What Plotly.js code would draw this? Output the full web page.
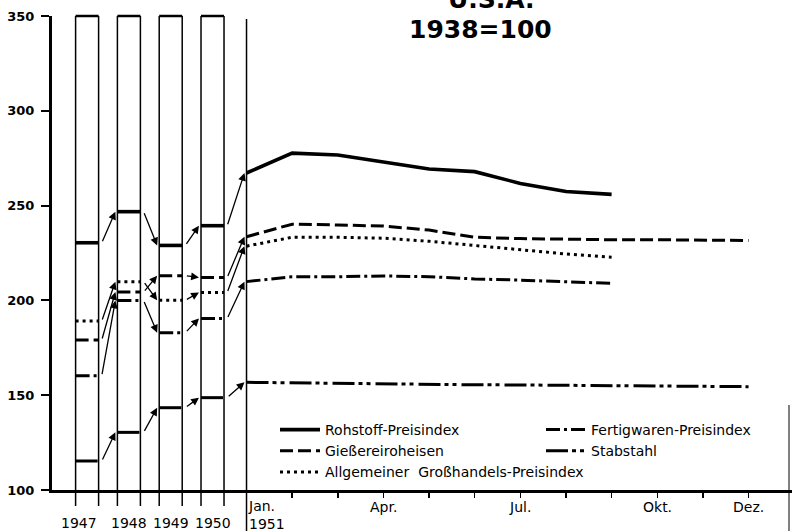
<!DOCTYPE html>
<html><head><meta charset="utf-8">
<script src="https://cdn.plot.ly/plotly-3.0.1.min.js"></script>
<style>html,body{margin:0;padding:0;background:#fff}#chart{width:792px;height:531px}</style>
</head><body><div id="chart"></div>
<script>
// ---------- data ----------
const years = ['1947', '1948', '1949', '1950'];
const months = ['Jan.', 'Feb.', 'Mär.', 'Apr.', 'Mai', 'Jun.', 'Jul.', 'Aug.', 'Sep.', 'Okt.', 'Nov.', 'Dez.'];
const labeledMonths = ['Apr.', 'Jul.', 'Okt.', 'Dez.'];
const firstMonthLabel = 'Jan.<br>1951';
const yTicks = [100, 150, 200, 250, 300, 350];

const seriesNames = ['Rohstoff-Preisindex', 'Fertigwaren-Preisindex', 'Gießereiroheisen', 'Stabstahl', 'Allgemeiner  Großhandels-Preisindex'];

const rohstoffYear = [230.4, 246.8, 229.0, 239.4];
const rohstoffMonth = [267.2, 277.7, 276.7, 272.8, 269.3, 267.9, 261.7, 257.4, 255.9];

const fertigYear = [160.3, 199.9, 183.0, 190.5];
const fertigMonth = [209.9, 212.5, 212.5, 212.9, 212.5, 211.3, 210.7, 209.9, 209.0];

const giessereiYear = [179.1, 204.4, 213.0, 212.1];
const giessereiMonth = [233.6, 240.2, 239.8, 239.2, 237.1, 233.3, 232.6, 232.2, 232.0, 232.0, 231.8, 231.6];

const stabYear = [115.3, 130.4, 143.4, 148.7];
const stabMonth = [156.8, 156.5, 156.2, 156.0, 155.7, 155.5, 155.4, 155.2, 155.0, 154.9, 154.7, 154.5];

const allgemeinYear = [189.1, 209.9, 200.1, 204.2];
const allgemeinMonth = [228.6, 233.3, 233.3, 232.8, 231.2, 228.9, 226.6, 224.5, 222.8];

// ---------- layout constants (x unit = one month, Jan 1951 = 0) ----------
const BOX_W = 0.504, BOX_STEP = 0.916, LAST_BOX_RIGHT = -0.493;
const X_RANGE = [-4.262, 11.952];
const TAIL_GAP = 0.07, HEAD_GAP = 0.045;
function yearBox(k) {
  const r = LAST_BOX_RIGHT - (years.length - 1 - k) * BOX_STEP;
  return {l: r - BOX_W, r: r, c: r - BOX_W / 2};
}
function py(pixel) { return (490 - pixel) / 474; }   // paper y from pixel row
function px(pixel) { return (pixel - 52) / 740; }    // paper x from pixel column

const styles = [
  {width: 3.6, dash: 'solid'},
  {width: 3, dash: '14px,4px,3px,4px'},
  {width: 3, dash: '13px,5px'},
  {width: 3, dash: '22px,4px,4px,4px,4px,5px'},
  {width: 3, dash: '3px,4px'}
];
const yearSets = [rohstoffYear, fertigYear, giessereiYear, stabYear, allgemeinYear];
const monthSets = [rohstoffMonth, fertigMonth, giessereiMonth, stabMonth, allgemeinMonth];

const traces = [];
const annotations = [];
seriesNames.forEach((name, s) => {
  const yv = yearSets[s], mv = monthSets[s];
  const x = [], y = [];
  yv.forEach((v, k) => { const b = yearBox(k); x.push(b.l, b.r, null); y.push(v, v, null); });
  mv.forEach((v, i) => { x.push(i); y.push(v); });
  traces.push({
    type: 'scatter', mode: 'lines', name: name, x: x, y: y,
    connectgaps: false, hoverinfo: 'skip', legendrank: s + 1,
    line: {color: '#000', width: styles[s].width, dash: styles[s].dash}
  });
  // arrows from each year level to the next period's level
  yv.forEach((v, k) => {
    const tailX = yearBox(k).r + TAIL_GAP;
    const headX = (k < yv.length - 1 ? yearBox(k + 1).l : 0) - HEAD_GAP;
    const headY = k < yv.length - 1 ? yv[k + 1] : mv[0];
    annotations.push({
      xref: 'x', yref: 'y', axref: 'x', ayref: 'y',
      x: headX, y: headY, ax: tailX, ay: v, text: '',
      showarrow: true, arrowhead: 2, arrowsize: 1.2, arrowwidth: 1.3,
      arrowcolor: '#000', standoff: 0, startstandoff: 0
    });
  });
});

// x labels
const lblFont = {family: 'DejaVu Sans', size: 14, color: '#000'};
years.forEach((yr, k) => {
  annotations.push({xref: 'x', yref: 'paper', x: yearBox(k).c, y: py(523), text: yr,
    showarrow: false, xanchor: 'center', yanchor: 'middle', xshift: k === 0 ? -8 : 0,
    font: {family: 'DejaVu Sans', size: 14, color: '#000'}});
});
annotations.push({xref: 'x', yref: 'paper', x: 0, y: py(515), text: firstMonthLabel,
  showarrow: false, xanchor: 'left', yanchor: 'middle', align: 'left', xshift: -1, font: lblFont});
labeledMonths.forEach(m => {
  annotations.push({xref: 'x', yref: 'paper', x: months.indexOf(m), y: py(507), text: m,
    showarrow: false, xanchor: 'center', yanchor: 'middle', font: lblFont});
});
// title
annotations.push({xref: 'paper', yref: 'paper', x: px(491), y: py(-1), text: 'U.S.A.',
  showarrow: false, xanchor: 'center', yanchor: 'middle',
  font: {family: 'DejaVu Sans', size: 25, color: '#000', weight: 'bold'}});
annotations.push({xref: 'paper', yref: 'paper', x: px(480), y: py(30), text: '1938=100',
  showarrow: false, xanchor: 'center', yanchor: 'middle',
  font: {family: 'DejaVu Sans', size: 25, color: '#000', weight: 'bold'}});

// year boxes and the January line
const shapes = [];
years.forEach((yr, k) => {
  const b = yearBox(k);
  [b.l, b.r].forEach(xx => shapes.push({type: 'line', xref: 'x', yref: 'paper',
    x0: xx, x1: xx, y0: py(506), y1: 1, line: {color: '#000', width: 1.5}}));
  shapes.push({type: 'line', xref: 'x', yref: 'paper', x0: b.l, x1: b.r, y0: 1, y1: 1,
    line: {color: '#000', width: 2.5}});
});
shapes.push({type: 'line', xref: 'x', yref: 'paper', x0: 0, x1: 0, y0: py(531), y1: py(19),
  line: {color: '#000', width: 1.5}});
shapes.push({type: 'line', xref: 'paper', yref: 'paper', x0: px(789), x1: px(789), y0: py(405), y1: py(531),
  line: {color: '#000', width: 1}});

const layout = {
  width: 792, height: 531,
  margin: {l: 52, r: 0, t: 16, b: 41, autoexpand: false},
  paper_bgcolor: '#fff', plot_bgcolor: '#fff',
  font: {family: 'DejaVu Sans', color: '#000'},
  showlegend: true,
  legend: {
    orientation: 'h', x: px(275), xanchor: 'left', y: py(414), yanchor: 'top',
    itemwidth: 40, entrywidth: 211, bgcolor: 'rgba(0,0,0,0)', borderwidth: 0,
    font: {family: 'DejaVu Sans', size: 14, color: '#000'}, traceorder: 'normal'
  },
  xaxis: {
    range: X_RANGE, type: 'linear', showgrid: false, zeroline: false,
    showline: true, linecolor: '#000', linewidth: 3,
    tickmode: 'array', tickvals: months.map((m, i) => i), ticks: 'outside',
    ticklen: 5, tickwidth: 1.5, tickcolor: '#000', showticklabels: false, fixedrange: true
  },
  yaxis: {
    range: [yTicks[0], yTicks[yTicks.length - 1]], showgrid: false, zeroline: false,
    showline: true, linecolor: '#000', linewidth: 3,
    tickmode: 'array', tickvals: yTicks, ticks: 'outside', ticklen: 8, tickwidth: 2,
    tickcolor: '#000', ticklabelstandoff: 4,
    tickfont: {family: 'DejaVu Sans', size: 13, color: '#000', weight: 'bold'}, fixedrange: true
  },
  shapes: shapes,
  annotations: annotations
};

Plotly.newPlot('chart', traces, layout, {displayModeBar: false, staticPlot: true});
</script>
</body></html>
